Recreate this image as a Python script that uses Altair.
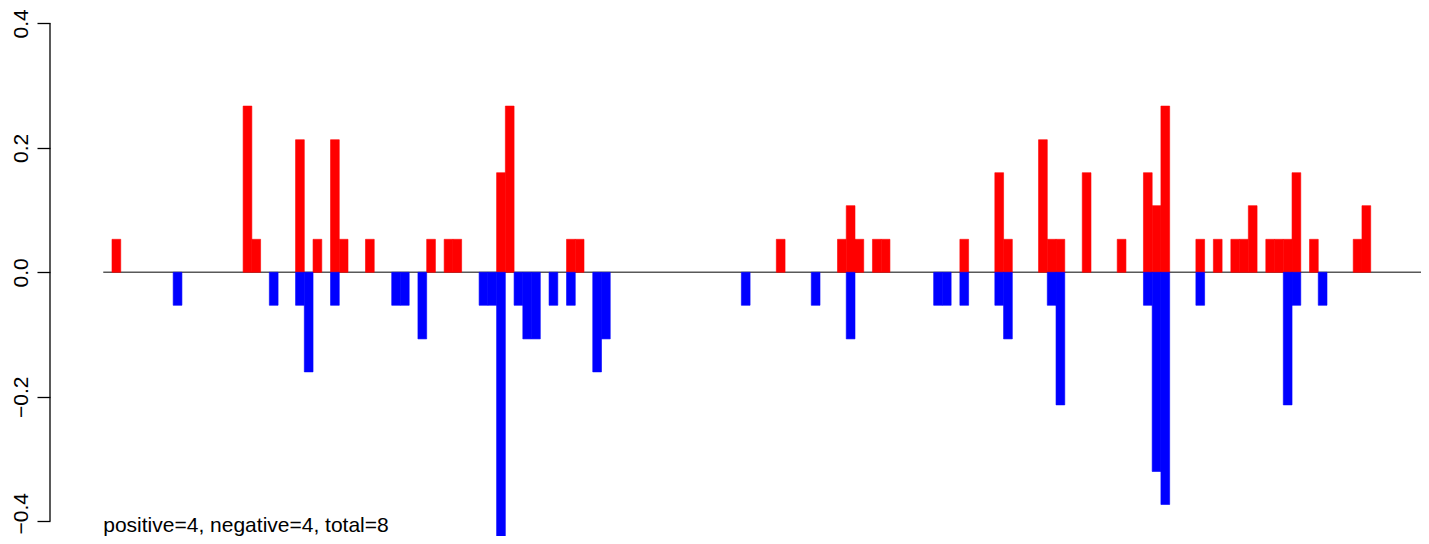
import altair as alt
import pandas as pd

# bin index (position along the sequence) and value of each bar
pos_bins = [0, 15, 16, 21, 23, 25, 26, 29, 36, 38, 39, 44, 45, 52, 53, 76, 83, 84, 85,
            87, 88, 97, 101, 102, 106, 107, 108, 111, 115, 118, 119, 120, 124, 126,
            128, 129, 130, 132, 133, 134, 135, 137, 142, 143]
pos_values = [0.053, 0.267, 0.053, 0.213, 0.053, 0.213, 0.053, 0.053, 0.053, 0.053,
              0.053, 0.16, 0.267, 0.053, 0.053, 0.053, 0.053, 0.107, 0.053, 0.053,
              0.053, 0.053, 0.16, 0.053, 0.213, 0.053, 0.053, 0.16, 0.053, 0.16,
              0.107, 0.267, 0.053, 0.053, 0.053, 0.053, 0.107, 0.053, 0.053, 0.053,
              0.16, 0.053, 0.053, 0.107]

neg_bins = [7, 18, 21, 22, 25, 32, 33, 35, 42, 43, 44, 46, 47, 48, 50, 52, 55, 56, 72,
            80, 84, 94, 95, 97, 101, 102, 107, 108, 118, 119, 120, 124, 134, 135, 138]
neg_values = [-0.053, -0.053, -0.053, -0.16, -0.053, -0.053, -0.053, -0.107, -0.053,
              -0.053, -0.427, -0.053, -0.107, -0.107, -0.053, -0.053, -0.16, -0.107,
              -0.053, -0.053, -0.107, -0.053, -0.053, -0.053, -0.053, -0.107, -0.053,
              -0.213, -0.053, -0.32, -0.373, -0.053, -0.213, -0.053, -0.053]

y_ticks = [-0.4, -0.2, 0.0, 0.2, 0.4]
note = "positive=4, negative=4, total=8"

PLOT_W = 1371
PLOT_H = 528
PX_PER_UNIT = 622.5
PX_PER_BIN = 8.741
ZERO_PX = 264.3  # distance of the zero line from the plot top
X_DOMAIN = [-7.093, -7.093 + PLOT_W / PX_PER_BIN]
Y_DOMAIN = [-(PLOT_H - ZERO_PX) / PX_PER_UNIT, ZERO_PX / PX_PER_UNIT]
FONT = "Liberation Sans"
COLORS = alt.Scale(domain=["pos", "neg"], range=["#FF0000", "#0000FF"])

bars = pd.DataFrame({
    "bin": pos_bins + neg_bins,
    "bin_end": [b + 1 for b in pos_bins + neg_bins],
    "value": pos_values + neg_values,
    "base": [0.0] * (len(pos_bins) + len(neg_bins)),
    "sign": ["pos"] * len(pos_bins) + ["neg"] * len(neg_bins),
})

xs = alt.Scale(domain=X_DOMAIN, nice=False, zero=False)
ys = alt.Scale(domain=Y_DOMAIN, nice=False, zero=False)

y_axis = alt.Axis(
    values=y_ticks,
    domain=False,
    grid=False,
    ticks=True,
    tickSize=13,
    tickColor="black",
    tickWidth=1.3,
    labelAngle=270,
    labelAlign="center",
    labelBaseline="alphabetic",
    labelPadding=10,
    labelOffset={"condition": {"test": "datum.value < -0.3", "value": -8}, "value": 0},
    labelFontSize=21,
    labelFont=FONT,
    labelColor="black",
    labelOverlap=False,
    labelExpr="replace(format(datum.value, '.1f'), '-', '\u2212')",
    title=None,
)

zero_df = pd.DataFrame({"bin": [-1.0], "bin_end": [X_DOMAIN[1]], "value": [0.0]})
zero_line = alt.Chart(zero_df).mark_rule(color="#595959", strokeWidth=1.6).encode(
    x=alt.X("bin:Q", scale=xs, axis=None),
    x2="bin_end:Q",
    y=alt.Y("value:Q", scale=ys, axis=y_axis),
)

bar_layer = alt.Chart(bars).mark_rect(strokeWidth=0.6).encode(
    x=alt.X("bin:Q", scale=xs, axis=None),
    x2="bin_end:Q",
    y=alt.Y("value:Q", scale=ys, axis=y_axis),
    y2="base:Q",
    color=alt.Color("sign:N", scale=COLORS, legend=None),
    stroke=alt.Stroke("sign:N", scale=COLORS, legend=None),
)

axis_df = pd.DataFrame({"bin": [X_DOMAIN[0]], "value": [y_ticks[0]], "top": [y_ticks[-1]]})
axis_line = alt.Chart(axis_df).mark_rule(color="black", strokeWidth=1.3).encode(
    x=alt.X("bin:Q", scale=xs, axis=None),
    y=alt.Y("value:Q", scale=ys, axis=y_axis),
    y2="top:Q",
)

note_df = pd.DataFrame({"bin": [-1.0], "value": [-0.4172], "label": [note]})
note_text = alt.Chart(note_df).mark_text(
    align="left", baseline="alphabetic", fontSize=21, font=FONT, color="black"
).encode(
    x=alt.X("bin:Q", scale=xs, axis=None),
    y=alt.Y("value:Q", scale=ys, axis=y_axis),
    text="label:N",
)

chart = alt.layer(zero_line, bar_layer, axis_line, note_text).properties(
    width=PLOT_W,
    height=PLOT_H,
    padding={"left": 42, "top": 0, "right": 0, "bottom": 0},
    autosize=alt.AutoSizeParams(type="none"),
).configure_view(stroke=None)

chart.save("out.html", embed_options={"renderer": "svg", "actions": False})
